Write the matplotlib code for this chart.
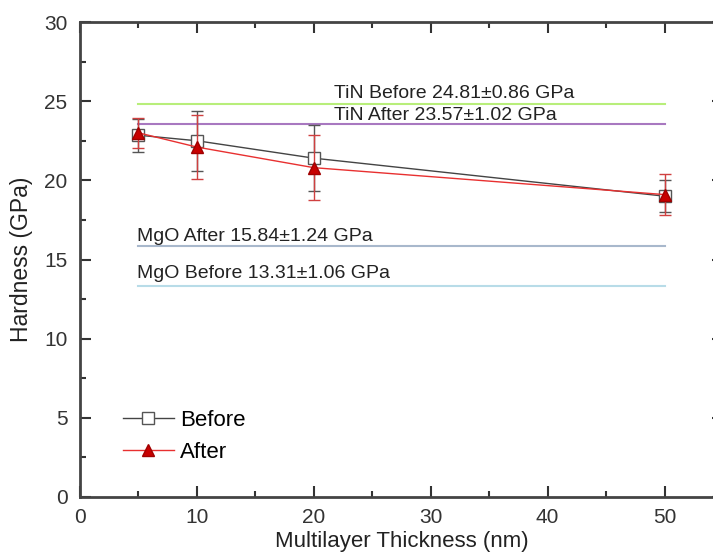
import matplotlib
matplotlib.use("Agg")
import matplotlib.pyplot as plt
from matplotlib.ticker import MultipleLocator

plt.rcParams['font.family'] = ['Liberation Sans', 'DejaVu Sans']

# measured points
thickness = [5, 10, 20, 50]
before = [22.85, 22.5, 21.4, 19.0]
before_err = [1.05, 1.9, 2.1, 1.0]
after = [23.0, 22.1, 20.8, 19.1]
after_err = [0.95, 2.0, 2.05, 1.3]

# bulk reference values (GPa)
ref_names = ["TiN Before 24.81\u00b10.86 GPa", "TiN After 23.57\u00b11.02 GPa",
             "MgO After 15.84\u00b11.24 GPa", "MgO Before 13.31\u00b11.06 GPa"]
ref_vals = [24.81, 23.57, 15.84, 13.31]
ref_colors = ["#b8ee7a", "#a878c0", "#a8b8cc", "#b8dce8"]
ref_label_x = [21.7, 21.7, 4.9, 4.9]
ref_label_y = [25.2, 23.8, 16.15, 13.85]

fig = plt.figure(figsize=(7.13, 5.57), dpi=100)
ax = fig.add_axes([80 / 713, 60 / 557, 643 / 713, 475 / 557])

for v, c, name, tx, ty in zip(ref_vals, ref_colors, ref_names, ref_label_x, ref_label_y):
    ax.plot([5, 50], [v, v], color=c, lw=1.5, zorder=1)
    ax.text(tx, ty, name, fontsize=14, color="#222222", va="baseline", ha="left")

ax.errorbar(thickness, before, yerr=before_err, color="#444444", lw=1,
            marker="s", ms=8, mfc="white", mec="#555555", mew=1,
            ecolor="#555555", elinewidth=1, capsize=4, capthick=1,
            label="Before", zorder=3)
ax.errorbar(thickness, after, yerr=after_err, color="#e83030", lw=1,
            marker="^", ms=9, mfc="#c80000", mec="#a00000", mew=1,
            ecolor="#d04040", elinewidth=1, capsize=4, capthick=1,
            label="After", zorder=4)

ax.set_xlim(0, 55)
ax.set_ylim(0, 30)
ax.xaxis.set_major_locator(MultipleLocator(10))
ax.xaxis.set_minor_locator(MultipleLocator(5))
ax.yaxis.set_major_locator(MultipleLocator(5))
ax.yaxis.set_minor_locator(MultipleLocator(2.5))
ax.tick_params(which="both", direction="in", top=True, right=True,
               labelsize=15, colors="#333333", width=1.5)
ax.tick_params(which="major", length=8)
ax.tick_params(which="minor", length=4)
ax.tick_params(axis="x", which="major", pad=8)
ax.tick_params(axis="y", which="major", pad=9)
for s in ax.spines.values():
    s.set_linewidth(2)
    s.set_color("#444444")

ax.set_xlabel("Multilayer Thickness (nm)", fontsize=16, color="#222222", labelpad=3)
ax.set_ylabel("Hardness (GPa)", fontsize=16.5, color="#222222", labelpad=8)

handles, labels = ax.get_legend_handles_labels()
handles = [h[0] for h in handles]
ax.legend(handles, labels, loc="lower left", bbox_to_anchor=(0.035, 0.03),
          frameon=False, fontsize=16, handlelength=2.3, handletextpad=0.3,
          labelspacing=0.5)

fig.savefig("out.png", dpi=100)
